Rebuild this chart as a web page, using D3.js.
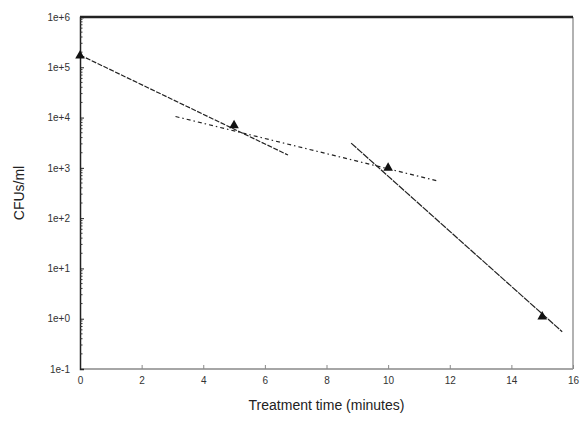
<!DOCTYPE html>
<html>
<head>
<meta charset="utf-8">
<script src="https://cdn.jsdelivr.net/npm/d3@7"></script>
<style>
  body { margin: 0; background: #fff; }
  text { font-family: "Liberation Sans", Arial, sans-serif; fill: #222; }
</style>
</head>
<body>
<svg id="chart" width="580" height="425"></svg>
<script>
// measured points
const times = [0, 5, 10, 15];
const cfus = [1.7e5, 7e3, 1e3, 1.1];

// fitted lines: [t0, t1] and [cfu at t0, cfu at t1]
const fitTimes = [[0, 6.75], [3.1, 11.6], [8.8, 15.65]];
const fitValues = [[1.75e5, 1.8e3], [1.05e4, 5.5e2], [3.1e3, 0.55]];
const fitDash = ['5,1.5', '4,3,1.5,3', '7,1'];

const xTicks = [0, 2, 4, 6, 8, 10, 12, 14, 16];
const yTicks = [1e-1, 1e0, 1e1, 1e2, 1e3, 1e4, 1e5, 1e6];
const yTickLabels = ['1e-1', '1e+0', '1e+1', '1e+2', '1e+3', '1e+4', '1e+5', '1e+6'];

const svg = d3.select('#chart');
const margin = { left: 80, right: 7, top: 17, bottom: 56 };
const width = 580 - margin.left - margin.right;
const height = 425 - margin.top - margin.bottom;

const g = svg.append('g').attr('transform', `translate(${margin.left},${margin.top})`);

const x = d3.scaleLinear().domain([0, 16]).range([0, width]);
const y = d3.scaleLog().domain([1e-1, 1e6]).range([height, 0]);

// frame: bottom and right grey, top thick
g.append('line').attr('x1', 0).attr('x2', width).attr('y1', height).attr('y2', height)
  .attr('stroke', '#888').attr('stroke-width', 1.5);
g.append('line').attr('x1', width).attr('x2', width).attr('y1', 0).attr('y2', height)
  .attr('stroke', '#999').attr('stroke-width', 1.5);
g.append('line').attr('x1', 0).attr('x2', width).attr('y1', 0).attr('y2', 0)
  .attr('stroke', '#222').attr('stroke-width', 2.5);

// x axis
const xAxis = g.append('g').attr('transform', `translate(0,${height})`)
  .call(d3.axisBottom(x).tickValues(xTicks).tickSize(-4).tickPadding(8).tickFormat(d3.format('d')));
xAxis.select('.domain').remove();
xAxis.selectAll('line').attr('stroke', '#888');
xAxis.selectAll('text').attr('font-size', 10).style('fill', '#333');

// y axis major
const yAxis = g.append('g')
  .call(d3.axisLeft(y).tickValues(yTicks).tickSize(-4).tickPadding(10)
    .tickFormat((d, i) => yTickLabels[i]));
yAxis.select('.domain').attr('stroke', '#222').attr('stroke-width', 1.5);
yAxis.selectAll('line').attr('stroke', '#222');
yAxis.selectAll('text').attr('font-size', 10).style('fill', '#333');

// y minor ticks
const minor = [];
for (let e = -1; e < 6; e++) {
  for (let m = 2; m <= 9; m++) minor.push(m * Math.pow(10, e));
}
g.append('g').selectAll('line').data(minor).join('line')
  .attr('x1', 0).attr('x2', 2.5)
  .attr('y1', d => y(d)).attr('y2', d => y(d))
  .attr('stroke', '#333').attr('stroke-width', 1);

// fitted lines
fitTimes.forEach((t, i) => {
  g.append('line')
    .attr('x1', x(t[0])).attr('y1', y(fitValues[i][0]))
    .attr('x2', x(t[1])).attr('y2', y(fitValues[i][1]))
    .attr('stroke', '#222').attr('stroke-width', 1.2)
    .attr('stroke-dasharray', fitDash[i]);
});

// triangles
g.selectAll('.pt').data(times).join('path')
  .attr('class', 'pt')
  .attr('transform', (d, i) => `translate(${x(d)},${y(cfus[i])})`)
  .attr('d', d3.symbol().type(d3.symbolTriangle).size(40))
  .attr('fill', '#111');

// axis titles
svg.append('text')
  .attr('transform', `translate(24,${margin.top + height / 2}) rotate(-90)`)
  .attr('text-anchor', 'middle')
  .attr('font-size', 14)
  .text('CFUs/ml');

svg.append('text')
  .attr('x', margin.left + width / 2).attr('y', 410)
  .attr('text-anchor', 'middle')
  .attr('font-size', 14)
  .text('Treatment time (minutes)');
</script>
</body>
</html>
